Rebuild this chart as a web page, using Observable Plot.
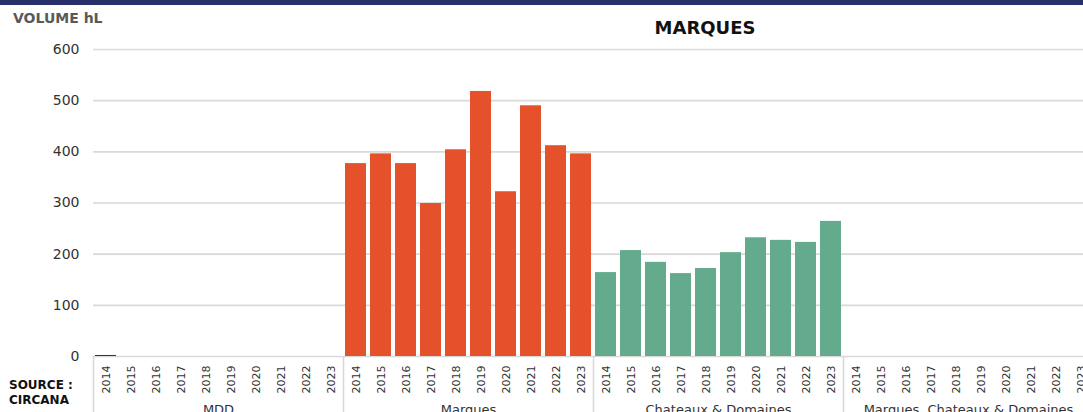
<!DOCTYPE html>
<html>
<head>
<meta charset="utf-8">
<script src="https://cdn.jsdelivr.net/npm/d3@7"></script>
<script src="https://cdn.jsdelivr.net/npm/@observablehq/plot@0.6"></script>
<style>
  html, body { margin: 0; padding: 0; background: #fff; overflow: hidden; width: 1083px; height: 412px; }
  #wrap { position: relative; width: 1083px; height: 412px; overflow: hidden; }
  #topbar { position: absolute; left: 0; top: 0; width: 1083px; height: 5px; background: #27306b; }
  #chart { position: absolute; left: 0; top: 0; width: 1100px; }
  #chart svg { max-width: none !important; width: 1100px !important; height: 440px !important; }
  .lbl { position: absolute; font-family: "DejaVu Sans", sans-serif; font-weight: bold; white-space: nowrap; }
  #ytitle { left: 13px; top: 10px; font-size: 14px; color: #595959; }
  #title { left: 705px; top: 17px; transform: translateX(-50%); font-size: 18px; color: #111; }
  #source { left: 9px; top: 378px; font-size: 12px; line-height: 15px; color: #111; }
</style>
</head>
<body>
<div id="wrap">
  <div id="chart"></div>
  <div id="topbar"></div>
  <div id="ytitle" class="lbl">VOLUME hL</div>
  <div id="title" class="lbl">MARQUES</div>
  <div id="source" class="lbl">SOURCE :<br>CIRCANA</div>
</div>
<script>
const groups = ["MDD", "Marques", "Chateaux & Domaines", "Marques, Chateaux & Domaines"];
const years = ["2014", "2015", "2016", "2017", "2018", "2019", "2020", "2021", "2022", "2023"];
const mddVolumes = [2, null, null, null, null, null, null, null, null, null];
const marquesVolumes = [377, 396, 377, 299, 404, 518, 322, 490, 412, 396];
const chateauxVolumes = [164, 207, 184, 162, 172, 203, 232, 227, 223, 264];
const marquesChateauxVolumes = [null, null, null, null, null, null, null, null, null, null];
const groupColors = ["#2b3174", "#e5512b", "#64aa8d", "#8a8a8a"];
const yTicks = [0, 100, 200, 300, 400, 500, 600];

const seriesByGroup = [mddVolumes, marquesVolumes, chateauxVolumes, marquesChateauxVolumes];
const keys = [];
const rows = [];
groups.forEach((g, gi) => {
  years.forEach((y, yi) => {
    const key = g + "|" + y;
    keys.push(key);
    const v = seriesByGroup[gi][yi];
    if (v != null) rows.push({key, group: g, year: y, value: v});
  });
});

const chart = Plot.plot({
  width: 1100,
  height: 440,
  marginLeft: 93,
  marginRight: 7,
  marginTop: 49,
  marginBottom: 84,
  style: {fontFamily: "DejaVu Sans, sans-serif", color: "#333", background: "transparent", maxWidth: "none"},
  x: {domain: keys, paddingInner: 0.16, paddingOuter: 0.08, axis: null},
  y: {domain: [0, 600], axis: null},
  color: {domain: groups, range: groupColors},
  marks: [
    Plot.ruleY(yTicks, {y: d => d, stroke: "#d9d9d9", strokeWidth: 1.6}),
    Plot.barY(rows, {x: "key", y: "value", fill: "group"}),
    Plot.axisY(yTicks, {tickSize: 0, tickPadding: 14, fontSize: 14, label: null, fill: "#333"}),
    Plot.axisX({tickSize: 0, tickPadding: 9, tickRotate: -90, fontSize: 11, label: null,
      tickFormat: d => d.split("|")[1], fill: "#333"}),
    Plot.ruleX(groups, {x: g => g + "|2014", dx: -12.5, y1: 0, y2: -200, stroke: "#d9d9d9", strokeWidth: 1.6}),
    Plot.text(groups, {x: g => g + "|2018", dx: 12.5, frameAnchor: "bottom", dy: 57, text: d => d, fontSize: 13, fill: "#333"})
  ]
});
document.getElementById("chart").appendChild(chart);
</script>
</body>
</html>
